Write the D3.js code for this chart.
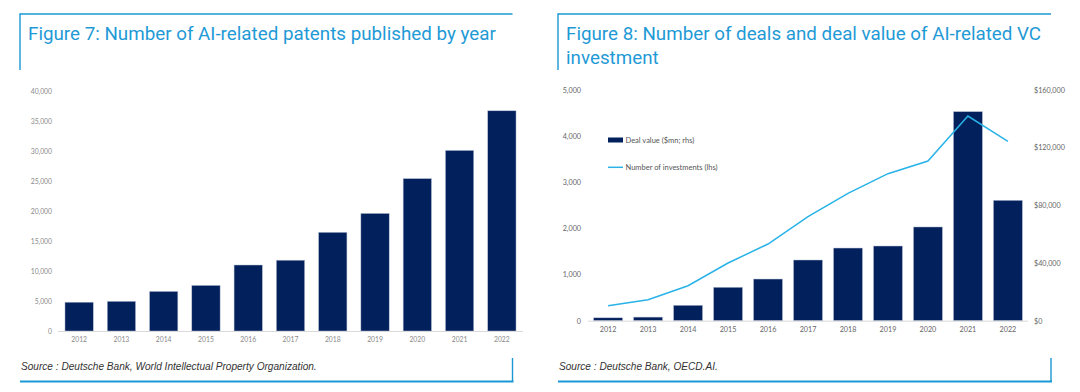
<!DOCTYPE html>
<html><head><meta charset="utf-8">
<script src="https://cdn.jsdelivr.net/npm/d3@7/dist/d3.min.js"></script>
<style>body{margin:0;background:#fff}svg{display:block}</style>
</head><body>
<svg id="c" width="1080" height="392"></svg>
<script>
// ---- Data ----
const years = ["2012","2013","2014","2015","2016","2017","2018","2019","2020","2021","2022"];
const patents = [4800, 4950, 6600, 7600, 11000, 11800, 16450, 19600, 25400, 30100, 36700];
const patentTicks = [0,5000,10000,15000,20000,25000,30000,35000,40000];
const dealValue = [2000, 2500, 10700, 23200, 28900, 42100, 50400, 51800, 65000, 145000, 83500];
const investments = [325, 455, 758, 1250, 1662, 2254, 2761, 3186, 3461, 4436, 3888];
const leftTicks8 = [0,1000,2000,3000,4000,5000];
const rightTicks8 = [0,40000,80000,120000,160000];
const title7 = "Figure 7: Number of AI-related patents published by year";
const title8 = ["Figure 8: Number of deals and deal value of AI-related VC", "investment"];
const source7 = "Source : Deutsche Bank, World Intellectual Property Organization.";
const source8 = "Source : Deutsche Bank, OECD.AI.";
const legend8 = ["Deal value ($mn; rhs)", "Number of investments (lhs)"];

const NAVY = "#02205c", LINE = "#29b3e8", FRAME = "#1a98d5", TITLE = "#1f9ad6";
const svg = d3.select("#c");
const fmt = d3.format(",");

function frame(x0, x1, titles, source) {
  const g = svg.append("g");
  g.append("line").attr("x1", x0).attr("x2", x1).attr("y1", 14).attr("y2", 14).attr("stroke", FRAME).attr("stroke-width", 1.4);
  g.append("line").attr("x1", x0).attr("x2", x0).attr("y1", 13.3).attr("y2", 70).attr("stroke", FRAME).attr("stroke-width", 1.4);
  titles.forEach((t, i) => g.append("text").attr("x", x0 + 8).attr("y", 40 + i * 24)
    .attr("font-family", "Roboto").attr("font-size", 18.8).attr("fill", TITLE).text(t));
  g.append("text").attr("x", x0 + 1).attr("y", 369.5).attr("font-family", "Liberation Sans, Arial")
    .attr("font-style", "italic").attr("font-size", 10.1).attr("fill", "#333").text(source);
  g.append("line").attr("x1", x0).attr("x2", x1 + 1).attr("y1", 381.5).attr("y2", 381.5).attr("stroke", FRAME).attr("stroke-width", 2);
  g.append("line").attr("x1", x1).attr("x2", x1).attr("y1", 358).attr("y2", 381.5).attr("stroke", FRAME).attr("stroke-width", 1.4);
}
frame(20, 512.5, [title7], source7);
frame(558, 1051, title8, source8);

// ---- Figure 7 ----
{
  const x = d3.scaleBand().domain(years).range([58, 523]).paddingInner(0.33).paddingOuter(0.165);
  const y = d3.scaleLinear().domain([0, 40000]).range([331, 91]);
  const g = svg.append("g");
  g.selectAll("rect").data(years).join("rect")
    .attr("x", d => x(d)).attr("width", x.bandwidth())
    .attr("y", (d, i) => y(patents[i])).attr("height", (d, i) => y(0) - y(patents[i]))
    .attr("fill", NAVY).attr("stroke", "#b9c2d6").attr("stroke-width", 0.5);
  g.append("line").attr("x1", 58).attr("x2", 523).attr("y1", y(0) + 0.5).attr("y2", y(0) + 0.5).attr("stroke", "#d9d9d9");
  const ya = d3.axisLeft(y).tickValues(patentTicks).tickFormat(fmt).tickSize(0).tickPadding(0);
  const ay = g.append("g").attr("transform", "translate(52,0)").call(ya);
  const xa = d3.axisBottom(x).tickSize(0).tickPadding(6);
  const ax = g.append("g").attr("transform", `translate(0,${y(0)})`).call(xa);
  [ay, ax].forEach(a => { a.select(".domain").remove(); a.selectAll("text").attr("font-family", "Lato, Liberation Sans").attr("font-size", 6.8).attr("fill", "#8a8a8a"); });
}

// ---- Figure 8 ----
{
  const x = d3.scaleBand().domain(years).range([588, 1028]).paddingInner(0.275).paddingOuter(0.14);
  const yl = d3.scaleLinear().domain([0, 5000]).range([320.7, 90]);
  const yr = d3.scaleLinear().domain([0, 160000]).range([320.7, 90]);
  const g = svg.append("g");
  g.selectAll("rect").data(years).join("rect")
    .attr("x", d => x(d)).attr("width", x.bandwidth())
    .attr("y", (d, i) => yr(dealValue[i])).attr("height", (d, i) => yr(0) - yr(dealValue[i]))
    .attr("fill", NAVY).attr("stroke", "#b9c2d6").attr("stroke-width", 0.5);
  g.append("line").attr("x1", 588).attr("x2", 1028).attr("y1", yl(0) + 0.5).attr("y2", yl(0) + 0.5).attr("stroke", "#d9d9d9");
  const line = d3.line().x((d, i) => x(years[i]) + x.bandwidth() / 2).y(d => yl(d));
  g.append("path").datum(investments).attr("d", line).attr("fill", "none").attr("stroke", LINE).attr("stroke-width", 1.5);
  const al = g.append("g").attr("transform", "translate(581,0)").call(d3.axisLeft(yl).tickValues(leftTicks8).tickFormat(fmt).tickSize(0).tickPadding(0));
  const ar = g.append("g").attr("transform", "translate(1034,0)").call(d3.axisRight(yr).tickValues(rightTicks8).tickFormat(d => "$" + fmt(d)).tickSize(0).tickPadding(0));
  const ax = g.append("g").attr("transform", `translate(0,${yl(0)})`).call(d3.axisBottom(x).tickSize(0).tickPadding(6));
  [al, ar, ax].forEach(a => { a.select(".domain").remove(); a.selectAll("text").attr("font-family", "Lato, Liberation Sans").attr("font-size", 7.2).attr("fill", "#666"); });
  // legend
  const lg = g.append("g");
  lg.append("rect").attr("x", 608).attr("y", 137.5).attr("width", 15).attr("height", 5).attr("fill", NAVY);
  lg.append("line").attr("x1", 608).attr("x2", 623).attr("y1", 167.3).attr("y2", 167.3).attr("stroke", LINE).attr("stroke-width", 1.5);
  legend8.forEach((t, i) => lg.append("text").attr("x", 625.5).attr("y", 140.5 + i * 27).attr("dy", "0.35em")
    .attr("font-family", "Lato, Liberation Sans").attr("font-size", 7.5).attr("fill", "#555").text(t));
}
</script>
</body></html>
